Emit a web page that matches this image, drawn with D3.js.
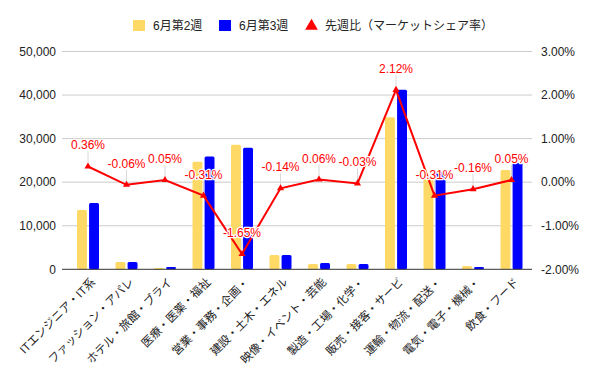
<!DOCTYPE html>
<html><head><meta charset="utf-8">
<script src="https://cdn.jsdelivr.net/npm/d3@7"></script>
<style>
html,body{margin:0;padding:0;background:#fff;}
text{font-family:Arial,"Liberation Sans","Noto Sans CJK JP",sans-serif;}
</style></head>
<body><svg id="c" width="600" height="371"></svg>
<script>
const categories = ["ITエンジニア・IT系","ファッション・アパレ","ホテル・旅館・ブライ","医療・医薬・福祉","営業・事務・企画・","建設・土木・エネル","映像・イベント・芸能","製造・工場・化学・","販売・接客・サービ","運輸・物流・配送・","電気・電子・機械・","飲食・フード"];
const week2 = [13600,1700,300,24700,28600,3300,1200,1200,34900,20800,750,22800];
const week3 = [15200,1700,500,25900,27900,3300,1450,1200,41200,22400,500,24400];
const shareChange = [0.36,-0.06,0.05,-0.31,-1.65,-0.14,0.06,-0.03,2.12,-0.31,-0.16,0.05];
const leftTicks = [0,10000,20000,30000,40000,50000];
const rightTicks = [-2,-1,0,1,2,3];
const seriesNames = ["6月第2週","6月第3週","先週比（マーケットシェア率）"];
const colors = ["#FFD966","#0000FF","#FF0000"];

const loc = d3.formatLocale({decimal:".",thousands:",",grouping:[3],currency:["",""],minus:"-"});
const fmtPct = v => loc.format(".2f")(v) + "%";
const fmtNum = loc.format(",");

const svg = d3.select("#c");
const L = 62, R = 532, T = 51.5, B = 269.3;
const x = d3.scaleBand().domain(categories).range([68.75, 530.75]);
const x1 = d3.scaleBand().domain(["w2","w3"]).range([-11, 11]).paddingInner(0.18);
const y = d3.scaleLinear().domain([0,50000]).range([B,T]);
const y2 = d3.scaleLinear().domain([-2,3]).range([B,T]);

svg.append("g").selectAll("line").data(leftTicks.slice(1)).join("line")
  .attr("x1",L).attr("x2",R).attr("y1",d=>y(d)).attr("y2",d=>y(d))
  .attr("stroke","#cccccc").attr("stroke-width",1);

svg.append("g").selectAll("text").data(leftTicks).join("text")
  .attr("x",56).attr("y",d=>y(d)).attr("dy","0.35em").attr("text-anchor","end")
  .attr("font-size",12).attr("fill","#222").text(d=>fmtNum(d));
svg.append("g").selectAll("text").data(rightTicks).join("text")
  .attr("x",541).attr("y",d=>y2(d)).attr("dy","0.35em").attr("text-anchor","start")
  .attr("font-size",12).attr("fill","#222").text(d=>fmtPct(d));

const cx = c => x(c) + x.bandwidth()/2;
const bars = svg.append("g");
bars.selectAll("rect.w2").data(categories).join("rect").attr("class","w2")
  .attr("x",(c)=>cx(c)+x1("w2")).attr("width",x1.bandwidth())
  .attr("y",(c,i)=>y(week2[i])).attr("height",(c,i)=>y(0)-y(week2[i]))
  .attr("fill",colors[0]).attr("rx",1.5);
bars.selectAll("rect.w3").data(categories).join("rect").attr("class","w3")
  .attr("x",(c)=>cx(c)+x1("w3")).attr("width",x1.bandwidth())
  .attr("y",(c,i)=>y(week3[i])).attr("height",(c,i)=>y(0)-y(week3[i]))
  .attr("fill",colors[1]).attr("rx",1.5);

svg.append("line").attr("x1",L).attr("x2",R).attr("y1",y(0)).attr("y2",y(0))
  .attr("stroke","#333").attr("stroke-width",1);

svg.append("g").selectAll("line").data(categories).join("line")
  .attr("x1",cx).attr("x2",cx)
  .attr("y1",(c,i)=>y2(shareChange[i])).attr("y2",(c,i)=>y2(shareChange[i])-15)
  .attr("stroke","#d8d8d8").attr("stroke-width",1);

const line = d3.line().x((d,i)=>cx(categories[i])).y(d=>y2(d));
svg.append("path").datum(shareChange).attr("d",line)
  .attr("fill","none").attr("stroke",colors[2]).attr("stroke-width",2);
svg.append("g").selectAll("path").data(shareChange).join("path")
  .attr("d",d3.symbol().type(d3.symbolTriangle).size(22))
  .attr("transform",(d,i)=>`translate(${cx(categories[i])},${y2(d)})`)
  .attr("fill",colors[2]);

svg.append("g").selectAll("text").data(shareChange).join("text")
  .attr("x",(d,i)=>cx(categories[i])).attr("y",d=>y2(d)-17)
  .attr("text-anchor","middle").attr("font-size",12)
  .attr("fill",colors[2]).attr("stroke","#fff").attr("stroke-width",2.5)
  .attr("paint-order","stroke").attr("stroke-linejoin","round")
  .text(d=>fmtPct(d));

svg.append("g").selectAll("text").data(categories).join("text")
  .attr("transform",c=>`translate(${cx(c)+5},${280}) rotate(-45)`)
  .attr("text-anchor","end").attr("dy","0.35em")
  .attr("font-size",11.5).attr("fill","#222").text(c=>c);

const lg = svg.append("g");
lg.append("rect").attr("x",133).attr("y",20).attr("width",12).attr("height",11).attr("fill",colors[0]);
lg.append("text").attr("x",153).attr("y",25.7).attr("dy","0.35em").attr("font-size",12).attr("fill","#222").text(seriesNames[0]);
lg.append("rect").attr("x",219).attr("y",20).attr("width",12).attr("height",11).attr("fill",colors[1]);
lg.append("text").attr("x",239).attr("y",25.7).attr("dy","0.35em").attr("font-size",12).attr("fill","#222").text(seriesNames[1]);
lg.append("path").attr("d",d3.symbol().type(d3.symbolTriangle).size(70))
  .attr("transform","translate(311.5,26)").attr("fill",colors[2]);
lg.append("text").attr("x",325).attr("y",25.7).attr("dy","0.35em").attr("font-size",12).attr("fill","#222").text(seriesNames[2]);
</script></body></html>
